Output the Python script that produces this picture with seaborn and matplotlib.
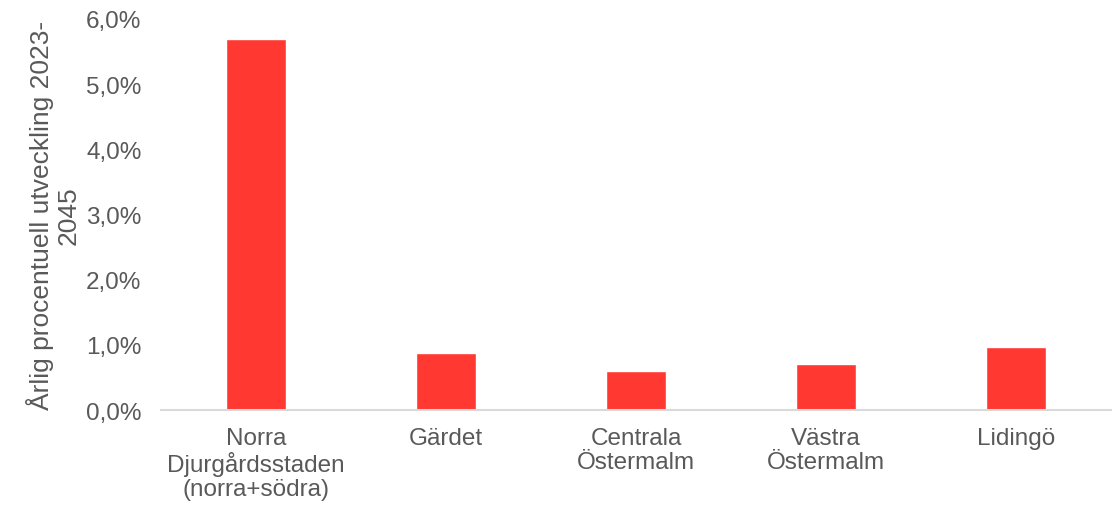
import matplotlib
matplotlib.use("Agg")
import matplotlib.pyplot as plt
import seaborn as sns
import pandas as pd
from matplotlib.ticker import FuncFormatter, MultipleLocator

regions = ["Norra\nDjurgårdsstaden\n(norra+södra)", "Gärdet", "Centrala\nÖstermalm",
           "Västra\nÖstermalm", "Lidingö"]
values = [0.0569, 0.0087, 0.0060, 0.0070, 0.0097]
ylabel = "Årlig procentuell utveckling 2023-\n2045"

sns.set_theme(style="white")
plt.rcParams['font.family'] = ['Liberation Sans', 'DejaVu Sans']

df = pd.DataFrame({"region": regions, "value": values})

fig = plt.figure(figsize=(11.2, 5.1), dpi=100)
ax = fig.add_axes([0.1437, 0.194, 0.992 - 0.1437, 0.961 - 0.194])
sns.barplot(data=df, x="region", y="value", color="#FF3831", saturation=1,
            width=0.315, ax=ax)

ax.set_ylim(0, 0.06)
ax.yaxis.set_major_locator(MultipleLocator(0.01))
ax.yaxis.set_major_formatter(FuncFormatter(lambda v, p: f"{v*100:.1f}%".replace(".", ",")))
ax.set_xlabel("")
ax.set_ylabel(ylabel, fontsize=19, color="#595959", labelpad=4, linespacing=1.15)
ax.tick_params(axis="both", length=0, labelsize=17.5, labelcolor="#595959")
ax.tick_params(axis="y", pad=14)
ax.tick_params(axis="x", pad=12)
for lbl in ax.get_xticklabels():
    lbl.set_linespacing(1.12)
for s in ["top", "right", "left"]:
    ax.spines[s].set_visible(False)
ax.spines["bottom"].set_color("#D9D9D9")
ax.spines["bottom"].set_linewidth(1.5)
ax.grid(False)

fig.savefig("out.png", dpi=100)
